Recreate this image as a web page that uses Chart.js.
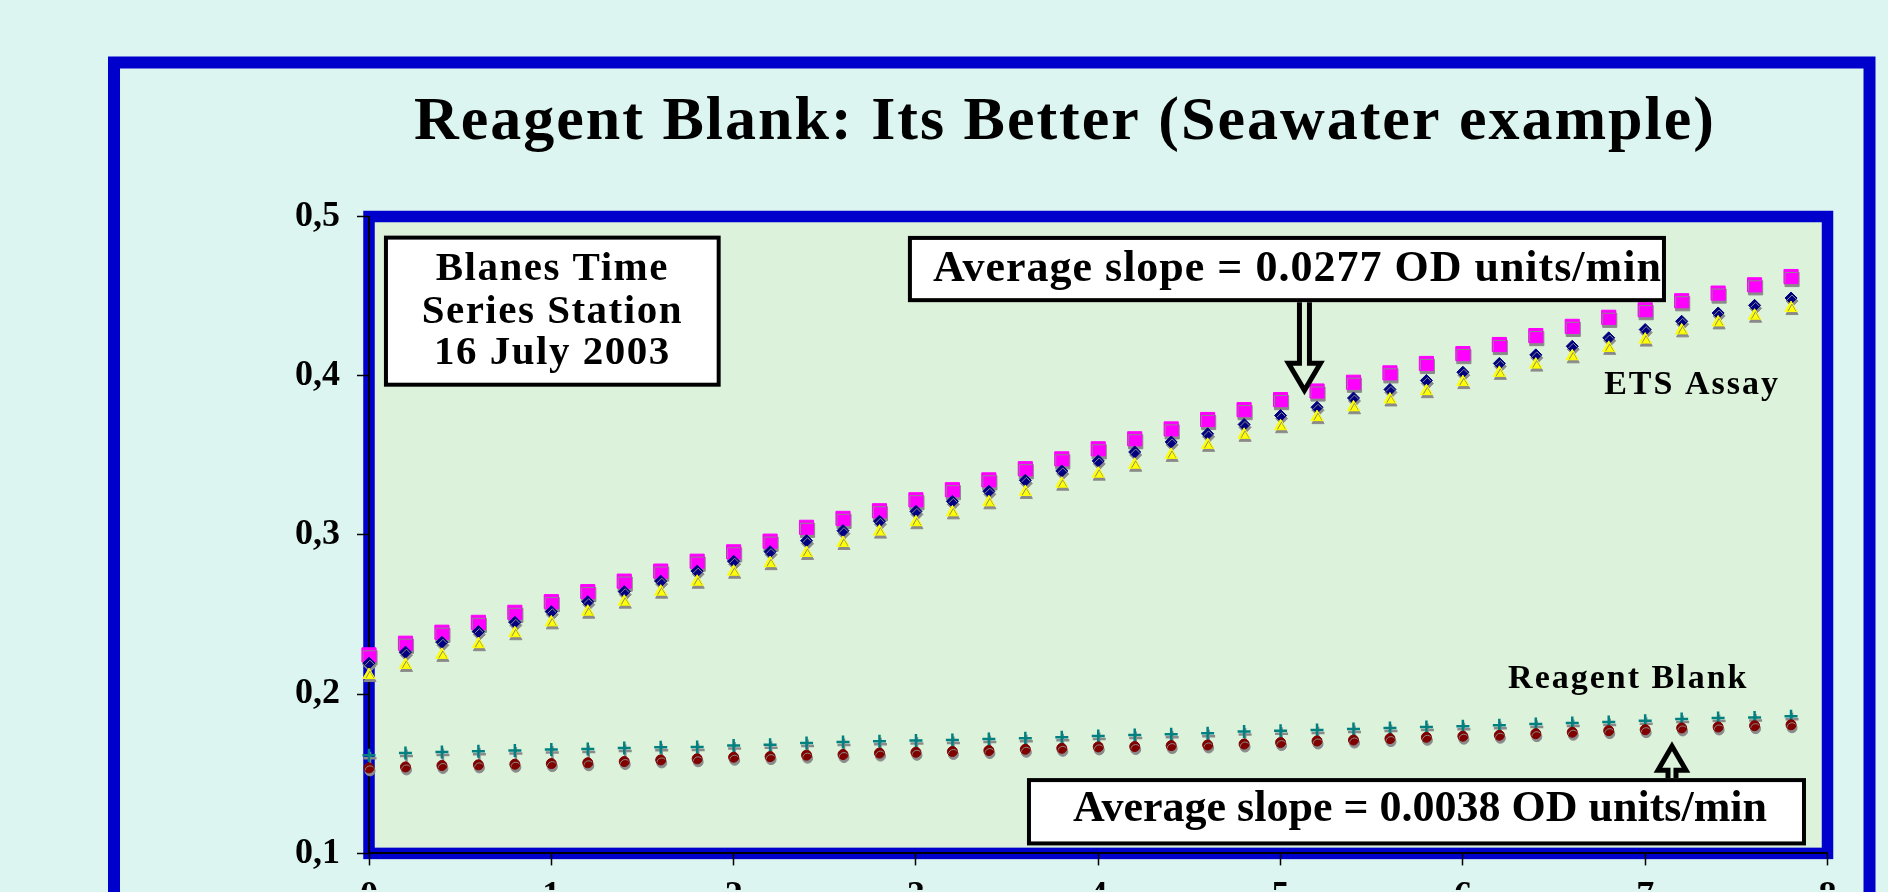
<!DOCTYPE html>
<html>
<head>
<meta charset="utf-8">
<title>Reagent Blank: Its Better</title>
<script src="https://cdn.jsdelivr.net/npm/chart.js@4.4.1/dist/chart.umd.min.js"></script>
<style>
  html, body { margin: 0; padding: 0; overflow: hidden; background: #dcf5f1; }
  #wrap { width: 1888px; height: 892px; }
</style>
</head>
<body>
<div id="wrap"><canvas id="chart" width="1888" height="892"></canvas></div>
<script>
// time of reading (min)
const minutes = [0, 0.2, 0.4, 0.6, 0.8, 1, 1.2, 1.4, 1.6, 1.8, 2, 2.2, 2.4, 2.6, 2.8, 3, 3.2, 3.4, 3.6, 3.8,
                 4, 4.2, 4.4, 4.6, 4.8, 5, 5.2, 5.4, 5.6, 5.8, 6, 6.2, 6.4, 6.6, 6.8, 7, 7.2, 7.4, 7.6, 7.8];

// ETS assay replicates (OD)
const etsMagenta = [0.2247, 0.2320, 0.2389, 0.2451, 0.2514, 0.2581, 0.2644, 0.2710, 0.2773, 0.2835,
                    0.2894, 0.2961, 0.3048, 0.3104, 0.3152, 0.3221, 0.3284, 0.3346, 0.3416, 0.3478,
                    0.3541, 0.3604, 0.3666, 0.3725, 0.3787, 0.3850, 0.3904, 0.3959, 0.4018, 0.4077,
                    0.4139, 0.4196, 0.4252, 0.4310, 0.4367, 0.4415, 0.4471, 0.4519, 0.4571, 0.4623];
const etsNavy = [0.2195, 0.2264, 0.2326, 0.2393, 0.2451, 0.2518, 0.2581, 0.2644, 0.2710, 0.2773,
                 0.2835, 0.2895, 0.2964, 0.3027, 0.3086, 0.3148, 0.3211, 0.3274, 0.3343, 0.3402,
                 0.3465, 0.3521, 0.3584, 0.3635, 0.3694, 0.3750, 0.3802, 0.3860, 0.3914, 0.3970,
                 0.4022, 0.4077, 0.4131, 0.4185, 0.4238, 0.4290, 0.4342, 0.4394, 0.4442, 0.4488];
const etsYellow = [0.2120, 0.2184, 0.2247, 0.2314, 0.2383, 0.2451, 0.2518, 0.2581, 0.2644, 0.2706,
                   0.2769, 0.2823, 0.2887, 0.2950, 0.3021, 0.3080, 0.3142, 0.3205, 0.3270, 0.3322,
                   0.3385, 0.3441, 0.3503, 0.3566, 0.3629, 0.3683, 0.3740, 0.3802, 0.3851, 0.3903,
                   0.3960, 0.4018, 0.4070, 0.4122, 0.4175, 0.4227, 0.4285, 0.4335, 0.4377, 0.4425];

// reagent blank replicates (OD)
const blankTeal = [0.1617, 0.1631, 0.1637, 0.1642, 0.1646, 0.1652, 0.1656, 0.1662, 0.1667, 0.1669,
                   0.1677, 0.1683, 0.1694, 0.1700, 0.1705, 0.1709, 0.1712, 0.1719, 0.1723, 0.1729,
                   0.1737, 0.1744, 0.1748, 0.1754, 0.1765, 0.1771, 0.1775, 0.1781, 0.1788, 0.1794,
                   0.1798, 0.1805, 0.1813, 0.1819, 0.1825, 0.1833, 0.1844, 0.1850, 0.1854, 0.1861];
const blankRed = [0.1537, 0.1543, 0.1552, 0.1556, 0.1560, 0.1564, 0.1569, 0.1577, 0.1587, 0.1594,
                  0.1604, 0.1608, 0.1617, 0.1621, 0.1630, 0.1635, 0.1640, 0.1646, 0.1654, 0.1660,
                  0.1669, 0.1671, 0.1677, 0.1681, 0.1687, 0.1696, 0.1706, 0.1712, 0.1721, 0.1729,
                  0.1736, 0.1742, 0.1752, 0.1761, 0.1771, 0.1777, 0.1788, 0.1794, 0.1802, 0.1808];

const xTickValues = [0, 1, 2, 3, 4, 5, 6, 7, 8];
const xTickLabels = ['0', '1', '2', '3', '4', '5', '6', '7', '8'];
const yTickValues = [0.1, 0.2, 0.3, 0.4, 0.5];
const yTickLabels = ['0,1', '0,2', '0,3', '0,4', '0,5'];

const titleText = 'Reagent Blank: Its Better (Seawater example)';

const SERIF = '"Liberation Serif", "DejaVu Serif", serif';
const BLUE = '#0000cc';

// text boxes, anchored in data units
const notes = [
    { x0: 0.082, x1: 1.929, y0: 0.4880, y1: 0.3931, align: 'center', size: 41, spacing: 1.5,
      lines: ['Blanes Time', 'Series Station', '16 July 2003'], baselines: [44, 87, 128] },
    { x0: 2.956, x1: 7.114, y0: 0.4878, y1: 0.4462, align: 'left', dx: 25, size: 44, spacing: 1,
      lines: ['Average slope = 0.0277 OD units/min'], baselines: [45] },
    { x0: 3.609, x1: 7.882, y0: 0.1473, y1: 0.1050, align: 'left', dx: 46, size: 44, spacing: 0,
      lines: ['Average slope = 0.0038 OD units/min'], baselines: [43] }
];
const arrows = [
    { x: 5.131, from: 0.4462, to: 0.3908, head: 27, wing: 16, shaft: 5 },
    { x: 7.147, from: 0.1473, to: 0.1673, head: 24, wing: 14, shaft: 4 }
];
const labels = [
    { x: 6.775, y: 0.3887, text: 'ETS Assay' },
    { x: 6.248, y: 0.2036, text: 'Reagent Blank' }
];

function pts(values) {
    return values.map((v, i) => ({ x: minutes[i], y: v }));
}

function boldText(ctx, text, x, y, size, spacing, align) {
    ctx.font = 'bold ' + size + 'px ' + SERIF;
    ctx.letterSpacing = spacing + 'px';
    ctx.textAlign = align || 'left';
    ctx.textBaseline = 'alphabetic';
    ctx.fillStyle = '#000';
    ctx.fillText(text, x, y);
    ctx.letterSpacing = '0px';
}

function drawNote(chart, n) {
    const ctx = chart.ctx;
    const xs = chart.scales.x, ys = chart.scales.y;
    const l = xs.getPixelForValue(n.x0), r = xs.getPixelForValue(n.x1);
    const t = ys.getPixelForValue(n.y0), b = ys.getPixelForValue(n.y1);
    ctx.save();
    ctx.fillStyle = '#fff';
    ctx.fillRect(l, t, r - l, b - t);
    ctx.beginPath();
    ctx.rect(l, t, r - l, b - t);
    ctx.clip();
    n.lines.forEach((line, i) => {
        const x = n.align === 'center' ? (l + r) / 2 : l + n.dx;
        boldText(ctx, line, x, t + n.baselines[i], n.size, n.spacing, n.align);
    });
    ctx.restore();
    ctx.lineWidth = 4;
    ctx.strokeStyle = '#000';
    ctx.strokeRect(l + 2, t + 2, r - l - 4, b - t - 4);
}

function drawArrow(chart, a) {
    const ctx = chart.ctx;
    const x = chart.scales.x.getPixelForValue(a.x);
    const y0 = chart.scales.y.getPixelForValue(a.from);
    const y1 = chart.scales.y.getPixelForValue(a.to);
    const neck = y1 - Math.sign(y1 - y0) * a.head;
    ctx.beginPath();
    ctx.moveTo(x - a.shaft, y0);
    ctx.lineTo(x - a.shaft, neck);
    ctx.lineTo(x - a.wing, neck);
    ctx.lineTo(x, y1);
    ctx.lineTo(x + a.wing, neck);
    ctx.lineTo(x + a.shaft, neck);
    ctx.lineTo(x + a.shaft, y0);
    ctx.lineWidth = 5;
    ctx.lineJoin = 'miter';
    ctx.strokeStyle = '#000';
    ctx.stroke();
}

const slideDecor = {
    id: 'slideDecor',
    beforeDraw(chart) {
        const ctx = chart.ctx;
        const a = chart.chartArea;
        ctx.save();
        ctx.fillStyle = '#dcf5f1';
        ctx.fillRect(0, 0, chart.width, chart.height);
        // outer slide frame
        ctx.strokeStyle = BLUE;
        ctx.lineWidth = 12;
        ctx.strokeRect(114, 62.5, 1755.5, 1000);
        boldText(ctx, titleText, 1065, 139, 62, 2, 'center');
        // plot area
        ctx.fillStyle = '#dcf2da';
        ctx.fillRect(a.left, a.top, a.right - a.left, a.bottom - a.top);
        ctx.strokeStyle = BLUE;
        ctx.lineWidth = 11.5;
        ctx.strokeRect(a.left, a.top, a.right - a.left, a.bottom - a.top);
        ctx.restore();
    },
    afterDatasetsDraw(chart) {
        const ctx = chart.ctx;
        ctx.save();
        notes.forEach(n => drawNote(chart, n));
        arrows.forEach(a => drawArrow(chart, a));
        labels.forEach(lb => {
            boldText(ctx, lb.text, chart.scales.x.getPixelForValue(lb.x),
                chart.scales.y.getPixelForValue(lb.y), 34, 2, 'left');
        });
        ctx.restore();
    }
};

// grey drop shadow under every marker, like the old spreadsheet chart
const markerShadow = {
    id: 'markerShadow',
    beforeDatasetDraw(chart) {
        const c = chart.ctx;
        c.save();
        c.shadowColor = '#8a8a8a';
        c.shadowOffsetX = 1;
        c.shadowOffsetY = 3;
        c.shadowBlur = 0;
    },
    afterDatasetDraw(chart) {
        chart.ctx.restore();
    }
};

const tickFont = { family: SERIF, size: 36, weight: 'bold' };

new Chart(document.getElementById('chart'), {
    type: 'scatter',
    data: {
        datasets: [
            { label: 'ETS 1', data: pts(etsMagenta), pointStyle: 'rect', pointRadius: 10,
              backgroundColor: '#ff00ff', borderColor: '#ff00ff', borderWidth: 1, clip: false, order: 3 },
            { label: 'ETS 2', data: pts(etsNavy), pointStyle: 'rectRot', pointRadius: 6,
              backgroundColor: '#000080', borderColor: '#000080', borderWidth: 1, clip: false, order: 2 },
            { label: 'ETS 3', data: pts(etsYellow), pointStyle: 'triangle', pointRadius: 7,
              backgroundColor: '#ffff00', borderColor: '#ffff00', borderWidth: 1, clip: false, order: 1 },
            { label: 'Blank 1', data: pts(blankTeal), pointStyle: 'cross', pointRadius: 6.5,
              backgroundColor: '#008080', borderColor: '#008080', borderWidth: 2.5, clip: false, order: 5 },
            { label: 'Blank 2', data: pts(blankRed), pointStyle: 'circle', pointRadius: 5,
              backgroundColor: '#800000', borderColor: '#800000', borderWidth: 1, clip: false, order: 4 }
        ]
    },
    options: {
        responsive: false,
        animation: false,
        events: [],
        layout: { padding: { top: 216.5, right: 60.5, bottom: 0, left: 0 } },
        plugins: {
            legend: { display: false },
            tooltip: { enabled: false },
            title: { display: false }
        },
        scales: {
            x: {
                type: 'linear',
                min: 0,
                max: 8,
                afterFit(s) { s.height = 36.5; },
                afterBuildTicks(s) { s.ticks = xTickValues.map(v => ({ value: v })); },
                ticks: {
                    callback: (v, i) => xTickLabels[i],
                    font: tickFont,
                    color: '#000',
                    padding: 9.5,
                    maxRotation: 0,
                    autoSkip: false
                },
                grid: { drawOnChartArea: false, drawTicks: true, tickLength: 12, tickWidth: 1.5, tickColor: '#000' },
                border: { color: '#000', width: 2 }
            },
            y: {
                type: 'linear',
                min: 0.1,
                max: 0.5,
                afterFit(s) { s.width = 369; },
                afterBuildTicks(s) { s.ticks = yTickValues.map(v => ({ value: v })); },
                ticks: {
                    callback: (v, i) => yTickLabels[i],
                    font: tickFont,
                    color: '#000',
                    padding: 17,
                    autoSkip: false
                },
                grid: { drawOnChartArea: false, drawTicks: true, tickLength: 12, tickWidth: 1.5, tickColor: '#000' },
                border: { color: '#000', width: 2 }
            }
        }
    },
    plugins: [slideDecor, markerShadow]
});
</script>
</body>
</html>
